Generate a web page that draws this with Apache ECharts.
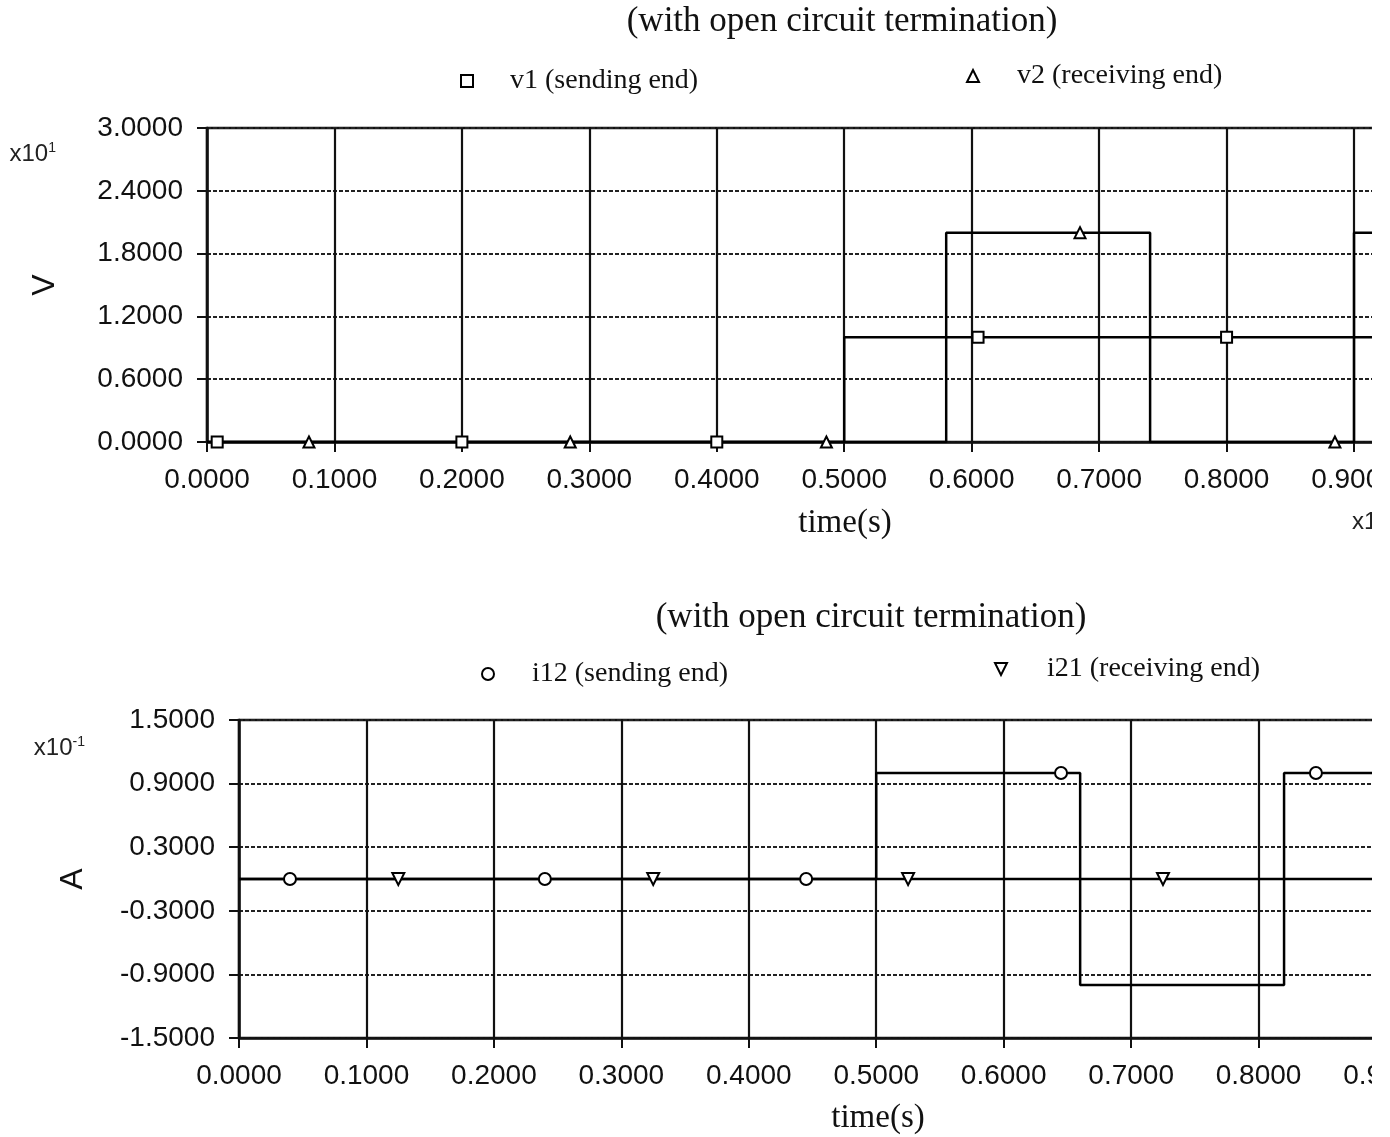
<!DOCTYPE html>
<html><head><meta charset="utf-8">
<script src="https://cdn.jsdelivr.net/npm/echarts@6/dist/echarts.min.js"></script>
<style>html,body{margin:0;padding:0;background:#fff;overflow:hidden;} #chart{width:1372px;height:1137px;}</style>
</head><body><div id="chart"></div>
<script>
// ---- data (top panel: voltages, x10^1 V) ----
const v1Time = [0, 0.5, 0.5, 0.94];
const v1Val  = [0, 0, 1.0, 1.0];
const v2Time = [0, 0.58, 0.58, 0.74, 0.74, 0.90, 0.90, 0.94];
const v2Val  = [0, 0, 2.0, 2.0, 0, 0, 2.0, 2.0];
const v1MarkTime = [0.008, 0.2, 0.4, 0.605, 0.8];
const v1MarkVal  = [0, 0, 0, 1.0, 1.0];
const v2MarkTime = [0.08, 0.285, 0.486, 0.685, 0.885];
const v2MarkVal  = [0, 0, 0, 2.0, 0];
// ---- data (bottom panel: currents, x10^-1 A) ----
const i12Time = [0, 0.5, 0.5, 0.66, 0.66, 0.82, 0.82, 0.94];
const i12Val  = [0, 0, 1.0, 1.0, -1.0, -1.0, 1.0, 1.0];
const i21Time = [0, 0.94];
const i21Val  = [0, 0];
const i12MarkTime = [0.04, 0.24, 0.445, 0.645, 0.845];
const i12MarkVal  = [0, 0, 0, 1.0, 1.0];
const i21MarkTime = [0.125, 0.325, 0.525, 0.725];
const i21MarkVal  = [0, 0, 0, 0];
// ---- axes ----
const xMin = 0, xMax = 0.94, xStep = 0.1;
const vMin = 0, vMax = 3.0, vStep = 0.6;
const aMin = -1.5, aMax = 1.5, aStep = 0.6;
const titleText = '(with open circuit termination)';
const names = { v1: 'v1 (sending end)', v2: 'v2 (receiving end)', i12: 'i12 (sending end)', i21: 'i21 (receiving end)' };

const pts = (t, v) => t.map((x, i) => [x, v[i]]);
const SERIF = 'Liberation Serif', SANS = 'Liberation Sans';
const INK = '#111';

function xAxisCfg(gi) {
  return {
    type: 'value', gridIndex: gi, min: xMin, max: xMax, interval: xStep,
    axisLine: { show: true, onZero: false, lineStyle: { color: INK, width: 2.5 } },
    axisTick: { show: true, length: 10, lineStyle: { color: INK, width: 2 } },
    axisLabel: { show: true, showMaxLabel: false, hideOverlap: false, margin: 24, color: '#111', fontFamily: SANS, fontSize: 28,
                 formatter: v => v.toFixed(4) },
    splitLine: { show: true, lineStyle: { color: INK, width: 2.2, type: 'solid' } }
  };
}
function yAxisCfg(gi, mn, mx, st, name, gap) {
  return {
    type: 'value', gridIndex: gi, min: mn, max: mx, interval: st,
    name: name, nameLocation: 'middle', nameGap: gap, nameRotate: 90,
    nameTextStyle: { fontFamily: SANS, fontSize: 32, color: '#111' },
    axisLine: { show: true, onZero: false, lineStyle: { color: INK, width: 2.5 } },
    axisTick: { show: true, length: 10, lineStyle: { color: INK, width: 2 } },
    axisLabel: { margin: 24, color: '#111', fontFamily: SANS, fontSize: 28, formatter: v => v.toFixed(4) },
    splitLine: { show: true, lineStyle: { color: '#222', width: 2, type: [4, 2] } }
  };
}
const hollow = { color: '#fff', borderColor: '#000', borderWidth: 2 };
function legendCfg(left, top, name, icon, pad) {
  return {
    left: left, top: top, padding: 0, itemWidth: 12, itemHeight: 12, selectedMode: false,
    data: [{ name: name, icon: icon, itemStyle: hollow }],
    textStyle: { fontFamily: SERIF, fontSize: 28, color: '#111', padding: [0, 0, 0, pad] }
  };
}
const lineStyle = { color: '#000', width: 2.5 };
const markStyle = { color: '#fff', borderColor: '#000', borderWidth: 2, opacity: 1 };
const triDown = 'path://M0,0L10,0L5,10Z';
const triUp = 'path://M5,0L10,10L0,10Z';

const gridBase = { show: true, borderColor: INK, borderWidth: 2.5, backgroundColor: 'transparent', containLabel: false, outerBoundsMode: 'none' };
const option = {
  animation: false,
  backgroundColor: '#fff',
  grid: [
    Object.assign({ left: 207, top: 128, height: 314, width: 1198 }, gridBase),
    Object.assign({ left: 239, top: 720, height: 318, width: 1198 }, gridBase)
  ],
  xAxis: [xAxisCfg(0), xAxisCfg(1)],
  yAxis: [yAxisCfg(0, vMin, vMax, vStep, 'V', 146), yAxisCfg(1, aMin, aMax, aStep, 'A', 150)],
  legend: [
    legendCfg(460, 67, names.v1, 'rect', 32),
    legendCfg(966, 62, names.v2, triUp, 33),
    legendCfg(481, 660, names.i12, 'circle', 33),
    legendCfg(994, 655, names.i21, triDown, 35)
  ],
  graphic: [
    { type: 'text', x: 842, y: 22, style: { text: titleText, font: '35px "Liberation Serif"', fill: '#111', textAlign: 'center', textVerticalAlign: 'middle' } },
    { type: 'text', x: 871, y: 618, style: { text: titleText, font: '35px "Liberation Serif"', fill: '#111', textAlign: 'center', textVerticalAlign: 'middle' } },
    { type: 'text', x: 845, y: 523, style: { text: 'time(s)', font: '33px "Liberation Serif"', fill: '#111', textAlign: 'center', textVerticalAlign: 'middle' } },
    { type: 'text', x: 878, y: 1118, style: { text: 'time(s)', font: '33px "Liberation Serif"', fill: '#111', textAlign: 'center', textVerticalAlign: 'middle' } },
    { type: 'text', x: 56, y: 154, style: { text: '{b|x10}{s|1}', rich: { b: { fontFamily: SANS, fontSize: 24, fill: '#222' }, s: { fontFamily: SANS, fontSize: 14, fill: '#222', padding: [0, 0, 12, 0] } }, textAlign: 'right', textVerticalAlign: 'middle' } },
    { type: 'text', x: 85, y: 748, style: { text: '{b|x10}{s|-1}', rich: { b: { fontFamily: SANS, fontSize: 24, fill: '#222' }, s: { fontFamily: SANS, fontSize: 14, fill: '#222', padding: [0, 0, 12, 0] } }, textAlign: 'right', textVerticalAlign: 'middle' } },
    { type: 'text', x: 1352, y: 522, style: { text: 'x10', font: '24px "Liberation Sans"', fill: '#222', textAlign: 'left', textVerticalAlign: 'middle' } }
  ],
  series: [
    { name: names.v1, type: 'line', xAxisIndex: 0, yAxisIndex: 0, data: pts(v1Time, v1Val), symbol: 'none', lineStyle: lineStyle, itemStyle: { color: '#000' }, z: 5 },
    { name: names.v1, type: 'scatter', xAxisIndex: 0, yAxisIndex: 0, data: pts(v1MarkTime, v1MarkVal), symbol: 'rect', symbolSize: 11, itemStyle: markStyle, z: 6 },
    { name: names.v2, type: 'line', xAxisIndex: 0, yAxisIndex: 0, data: pts(v2Time, v2Val), symbol: 'none', lineStyle: lineStyle, itemStyle: { color: '#000' }, z: 5 },
    { name: names.v2, type: 'scatter', xAxisIndex: 0, yAxisIndex: 0, data: pts(v2MarkTime, v2MarkVal), symbol: triUp, symbolSize: 11, itemStyle: markStyle, z: 6 },
    { name: names.i12, type: 'line', xAxisIndex: 1, yAxisIndex: 1, data: pts(i12Time, i12Val), symbol: 'none', lineStyle: lineStyle, itemStyle: { color: '#000' }, z: 5 },
    { name: names.i12, type: 'scatter', xAxisIndex: 1, yAxisIndex: 1, data: pts(i12MarkTime, i12MarkVal), symbol: 'circle', symbolSize: 12, itemStyle: markStyle, z: 6 },
    { name: names.i21, type: 'line', xAxisIndex: 1, yAxisIndex: 1, data: pts(i21Time, i21Val), symbol: 'none', lineStyle: lineStyle, itemStyle: { color: '#000' }, z: 5 },
    { name: names.i21, type: 'scatter', xAxisIndex: 1, yAxisIndex: 1, data: pts(i21MarkTime, i21MarkVal), symbol: triDown, symbolSize: 12, itemStyle: markStyle, z: 6 }
  ]
};
const chart = echarts.init(document.getElementById('chart'), null, { renderer: 'canvas' });
chart.setOption(option);
</script>
</body></html>
